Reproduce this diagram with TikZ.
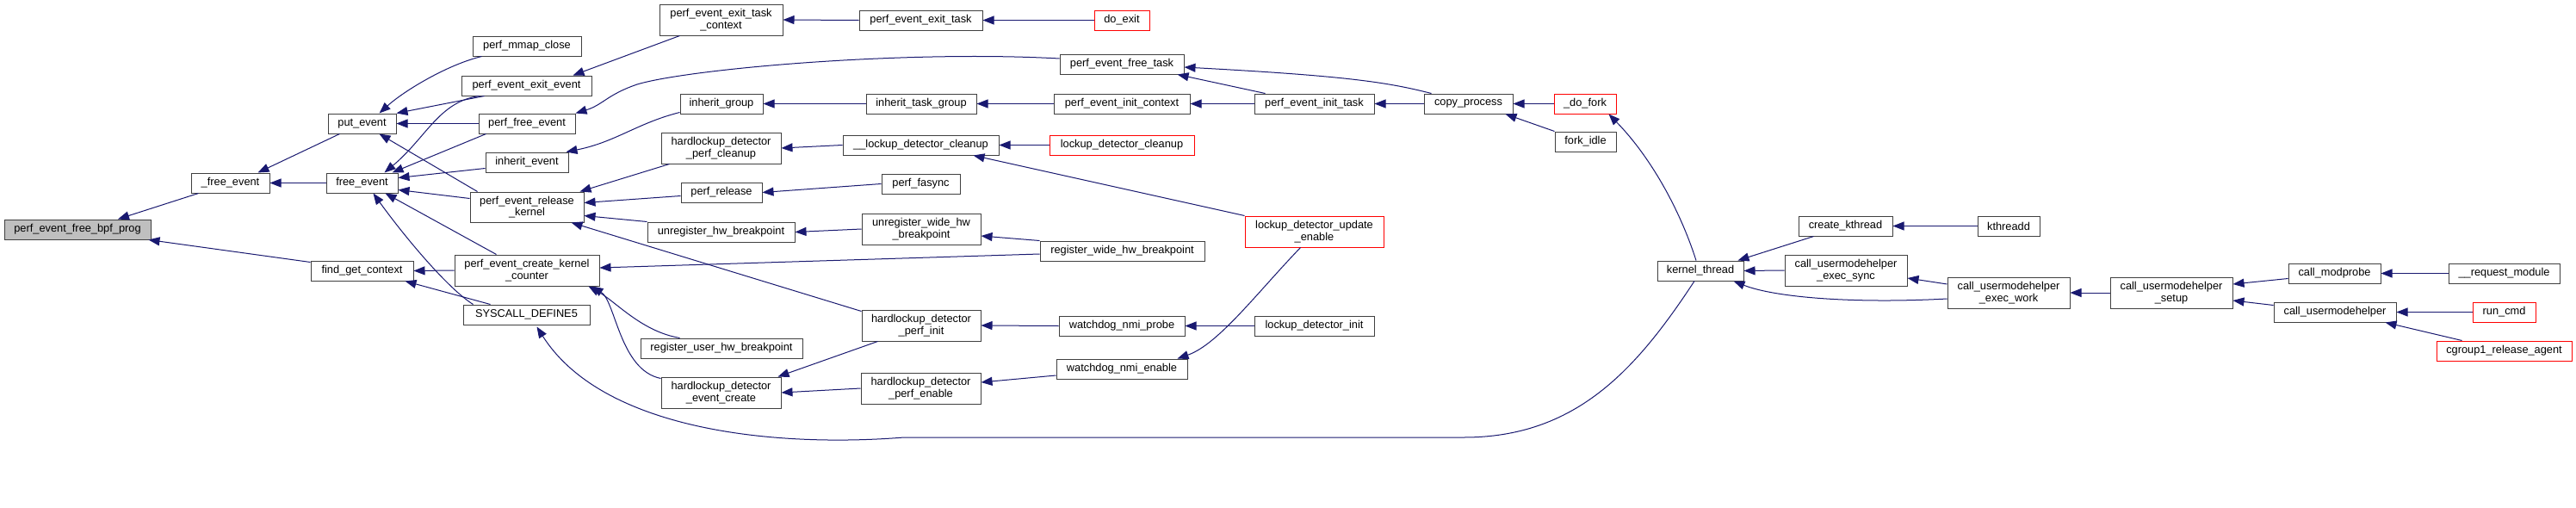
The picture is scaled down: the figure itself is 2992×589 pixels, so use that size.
\documentclass[tikz,border=0pt]{standalone}
\usepackage{fontspec}
\setmainfont{Liberation Sans}
\usetikzlibrary{arrows.meta}
\definecolor{edgec}{HTML}{191970}
\definecolor{bdr}{HTML}{404040}
\definecolor{hl}{HTML}{BFBFBF}
\newcommand\bx[7]{\node[#1, minimum width={#5pt-#3pt}, minimum height={#6pt-#4pt}] (#2) at ({(#3+#5)/2},{(#4+#6)/2}) {#7};}
\begin{document}
\begin{tikzpicture}[x=1pt,y=-1pt,
 box/.style={draw=bdr,line width=1pt,fill=white,inner sep=0pt,align=center,font=\fontsize{12.8}{13.5}\selectfont},
 redbox/.style={box,draw=red},
 hlbox/.style={box,fill=hl},
 conn/.style={draw=edgec,line width=1pt,-{Triangle[length=13pt,width=10pt]}}]
\useasboundingbox (0,0) rectangle (2992,589);
\fill[white] (0,0) rectangle (2992,589);
\bx{hlbox}{bpf}{5}{255}{175}{278}{perf\_event\_free\_bpf\_prog}
\bx{box}{freeu}{222}{201}{313}{224}{\_free\_event}
\bx{box}{put}{381}{132}{460}{155}{put\_event}
\bx{box}{free}{379}{201}{462}{224}{free\_event}
\bx{box}{fgc}{361}{303}{480}{326}{find\_get\_context}
\bx{box}{mmap}{549}{42}{675}{65}{perf\_mmap\_close}
\bx{box}{exitev}{536}{88}{687}{111}{perf\_event\_exit\_event}
\bx{box}{pfree}{556}{132}{668}{155}{perf\_free\_event}
\bx{box}{inhev}{564}{177}{660}{200}{inherit\_event}
\bx{box}{relk}{546}{223}{678}{258}{perf\_event\_release\\\_kernel}
\bx{box}{ckc}{528}{296}{696}{332}{perf\_event\_create\_kernel\\\_counter}
\bx{box}{sys}{538}{354}{685}{377}{SYSCALL\_DEFINE5}
\bx{box}{etc}{766}{5}{909}{41}{perf\_event\_exit\_task\\\_context}
\bx{box}{inhg}{790}{109}{886}{132}{inherit\_group}
\bx{box}{hcl}{768}{154}{907}{190}{hardlockup\_detector\\\_perf\_cleanup}
\bx{box}{prel}{791}{212}{885}{235}{perf\_release}
\bx{box}{uhw}{752}{258}{923}{281}{unregister\_hw\_breakpoint}
\bx{box}{ruhw}{744}{393}{932}{416}{register\_user\_hw\_breakpoint}
\bx{box}{hec}{768}{438}{907}{474}{hardlockup\_detector\\\_event\_create}
\bx{box}{exit}{998}{12}{1141}{35}{perf\_event\_exit\_task}
\bx{box}{itg}{1006}{109}{1134}{132}{inherit\_task\_group}
\bx{box}{lcl}{979}{157}{1160}{180}{\_\_lockup\_detector\_cleanup}
\bx{box}{fas}{1024}{202}{1115}{225}{perf\_fasync}
\bx{box}{uwhw}{1001}{248}{1139}{284}{unregister\_wide\_hw\\\_breakpoint}
\bx{box}{hpi}{1001}{360}{1139}{396}{hardlockup\_detector\\\_perf\_init}
\bx{box}{hpe}{1000}{433}{1139}{469}{hardlockup\_detector\\\_perf\_enable}
\bx{redbox}{doexit}{1271}{12}{1335}{35}{do\_exit}
\bx{box}{pft}{1231}{63}{1375}{86}{perf\_event\_free\_task}
\bx{box}{pic}{1224}{109}{1382}{132}{perf\_event\_init\_context}
\bx{redbox}{ldc}{1219}{157}{1387}{180}{lockup\_detector\_cleanup}
\bx{box}{rwhw}{1208}{280}{1399}{303}{register\_wide\_hw\_breakpoint}
\bx{box}{wnp}{1230}{367}{1376}{390}{watchdog\_nmi\_probe}
\bx{box}{wne}{1227}{417}{1379}{440}{watchdog\_nmi\_enable}
\bx{box}{pit}{1457}{109}{1596}{132}{perf\_event\_init\_task}
\bx{redbox}{ldue}{1446}{251}{1607}{287}{lockup\_detector\_update\\\_enable}
\bx{box}{ldi}{1457}{367}{1596}{390}{lockup\_detector\_init}
\bx{box}{cp}{1654}{109}{1757}{132}{copy\_process}
\bx{redbox}{dofork}{1805}{109}{1877}{132}{\_do\_fork}
\bx{box}{fidle}{1806}{153}{1877}{176}{fork\_idle}
\bx{box}{kt}{1925}{303}{2025}{326}{kernel\_thread}
\bx{box}{ck}{2089}{251}{2198}{274}{create\_kthread}
\bx{box}{cues}{2073}{296}{2215}{332}{call\_usermodehelper\\\_exec\_sync}
\bx{box}{kthd}{2297}{251}{2369}{274}{kthreadd}
\bx{box}{cuew}{2262}{322}{2404}{358}{call\_usermodehelper\\\_exec\_work}
\bx{box}{cus}{2451}{322}{2593}{358}{call\_usermodehelper\\\_setup}
\bx{box}{cmp}{2658}{306}{2765}{329}{call\_modprobe}
\bx{box}{cuh}{2641}{351}{2783}{374}{call\_usermodehelper}
\bx{box}{rqm}{2844}{306}{2973}{329}{\_\_request\_module}
\bx{redbox}{runcmd}{2872}{351}{2945}{374}{run\_cmd}
\bx{redbox}{cg}{2830}{396}{2987}{419}{cgroup1\_release\_agent}
% edges
\draw[conn] ([shift={(-37,0)}]freeu.south) -- ([shift={(47,0)}]bpf.north);
\draw[conn] ([shift={(0,2)}]fgc.north west) -- ([shift={(-3,0)}]bpf.south east);
\draw[conn] ([shift={(14,0)}]put.south west) -- ([shift={(32,0)}]freeu.north);
\draw[conn] (free.west) -- (freeu.east);
\draw[conn] ([shift={(11,0)}]mmap.south west) .. controls (520,75) and (470,105) .. ([shift={(20,0)}]put.north);
\draw[conn] ([shift={(27,0)}]exitev.south west) -- (put.north east);
\draw[conn] ([shift={(21,0)}]exitev.south west) .. controls (510,118) and (495,160) .. ([shift={(26,0)}]free.north);
\draw[conn] (pfree.west) -- (put.east);
\draw[conn] ([shift={(9,0)}]pfree.south west) -- ([shift={(-7,0)}]free.north east);
\draw[conn] ([shift={(9,0)}]relk.north west) -- ([shift={(20,0)}]put.south);
\draw[conn] ([shift={(0,7)}]inhev.west) -- ([shift={(0,-6)}]free.east);
\draw[conn] ([shift={(0,-10)}]relk.west) -- ([shift={(0,8)}]free.east);
\draw[conn] ([shift={(49,0)}]ckc.north west) -- ([shift={(27,0)}]free.south);
\draw[conn] ([shift={(12,0)}]sys.north west) .. controls (520,335) and (470,275) .. ([shift={(13,0)}]free.south);
\draw[conn] (ckc.west) -- (fgc.east);
\draw[conn] ([shift={(32,0)}]sys.north west) -- ([shift={(-10,0)}]fgc.south east);
\draw[conn] ([shift={(24,0)}]etc.south west) -- ([shift={(-22,0)}]exitev.north east);
\draw[conn] ([shift={(0,-6.5)}]pft.west) .. controls (1050,58) and (800,80) .. (740,98) .. controls (705,110) and (700,122) .. (pfree.north east);
\draw[conn] ([shift={(0,10)}]inhg.west) .. controls (740,143) and (715,165) .. ([shift={(-3,0)}]inhev.north east);
\draw[conn] ([shift={(10,0)}]hcl.south west) -- ([shift={(-5,0)}]relk.north east);
\draw[conn] ([shift={(0,4)}]prel.west) -- ([shift={(0,-5)}]relk.east);
\draw[conn] (uhw.north west) -- ([shift={(0,10)}]relk.east);
\draw[conn] ([shift={(0,2)}]hpi.north west) -- ([shift={(-15,0)}]relk.south east);
\draw[conn] ([shift={(0,3.5)}]rwhw.west) -- ([shift={(0,-3)}]ckc.east);
\draw[conn] ([shift={(46,0)}]ruhw.north west) .. controls (745,385) and (715,350) .. ([shift={(-13,0)}]ckc.south east);
\draw[conn] ([shift={(0,2)}]hec.north west) .. controls (720,430) and (715,350) .. ([shift={(-9,0)}]ckc.south east);
\draw[conn] ([shift={(-7,0)}]kt.south) .. controls (1900,430) and (1830,508) .. (1700,508) -- (1050,508) .. controls (900,520) and (700,500) .. ([shift={(12,2)}]sys.south);
\draw[conn] (exit.west) -- (etc.east);
\draw[conn] (itg.west) -- (inhg.east);
\draw[conn] (lcl.west) -- (hcl.east);
\draw[conn] (fas.west) -- (prel.east);
\draw[conn] (uwhw.west) -- (uhw.east);
\draw[conn] ([shift={(19,0)}]hpi.south west) -- ([shift={(-4,0)}]hec.north east);
\draw[conn] (hpe.west) -- (hec.east);
\draw[conn] (doexit.west) -- (exit.east);
\draw[conn] (pic.west) -- (itg.east);
\draw[conn] (ldc.west) -- (lcl.east);
\draw[conn] (ldue.north west) -- ([shift={(-30,0)}]lcl.south east);
\draw[conn] (rwhw.north west) -- ([shift={(0,8)}]uwhw.east);
\draw[conn] (wnp.west) -- (hpi.east);
\draw[conn] ([shift={(0,7.5)}]wne.west) -- ([shift={(0,-7)}]hpe.east);
\draw[conn] ([shift={(-16,0)}]ldue.south) .. controls (1460,340) and (1415,400) .. ([shift={(-12,0)}]wne.north east);
\draw[conn] (pit.west) -- (pic.east);
\draw[conn] ([shift={(13,0)}]pit.north west) -- ([shift={(-8,0)}]pft.south east);
\draw[conn] (ldi.west) -- (wnp.east);
\draw[conn] (cp.west) -- (pit.east);
\draw[conn] ([shift={(9,0)}]cp.north west) .. controls (1610,95) and (1560,88) .. ([shift={(0,3.5)}]pft.east);
\draw[conn] (dofork.west) -- (cp.east);
\draw[conn] (fidle.north west) -- ([shift={(-9,0)}]cp.south east);
\draw[conn] ([shift={(-5,0)}]kt.north) .. controls (1950,240) and (1915,180) .. ([shift={(-9,0)}]dofork.south east);
\draw[conn] ([shift={(18,0)}]ck.south west) -- ([shift={(-7,0)}]kt.north east);
\draw[conn] (cues.west) -- (kt.east);
\draw[conn] ([shift={(0,7)}]cuew.west) .. controls (2150,353) and (2060,345) .. ([shift={(-12,0)}]kt.south east);
\draw[conn] ([shift={(0,-10)}]cuew.west) -- ([shift={(0,9)}]cues.east);
\draw[conn] (kthd.west) -- (ck.east);
\draw[conn] (cus.west) -- (cuew.east);
\draw[conn] ([shift={(0,6)}]cmp.west) -- ([shift={(0,-10)}]cus.east);
\draw[conn] ([shift={(0,-8)}]cuh.west) -- ([shift={(0,9)}]cus.east);
\draw[conn] (rqm.west) -- (cmp.east);
\draw[conn] (runcmd.west) -- (cuh.east);
\draw[conn] ([shift={(30,0)}]cg.north west) -- ([shift={(-13,0)}]cuh.south east);
\end{tikzpicture}
\end{document}
